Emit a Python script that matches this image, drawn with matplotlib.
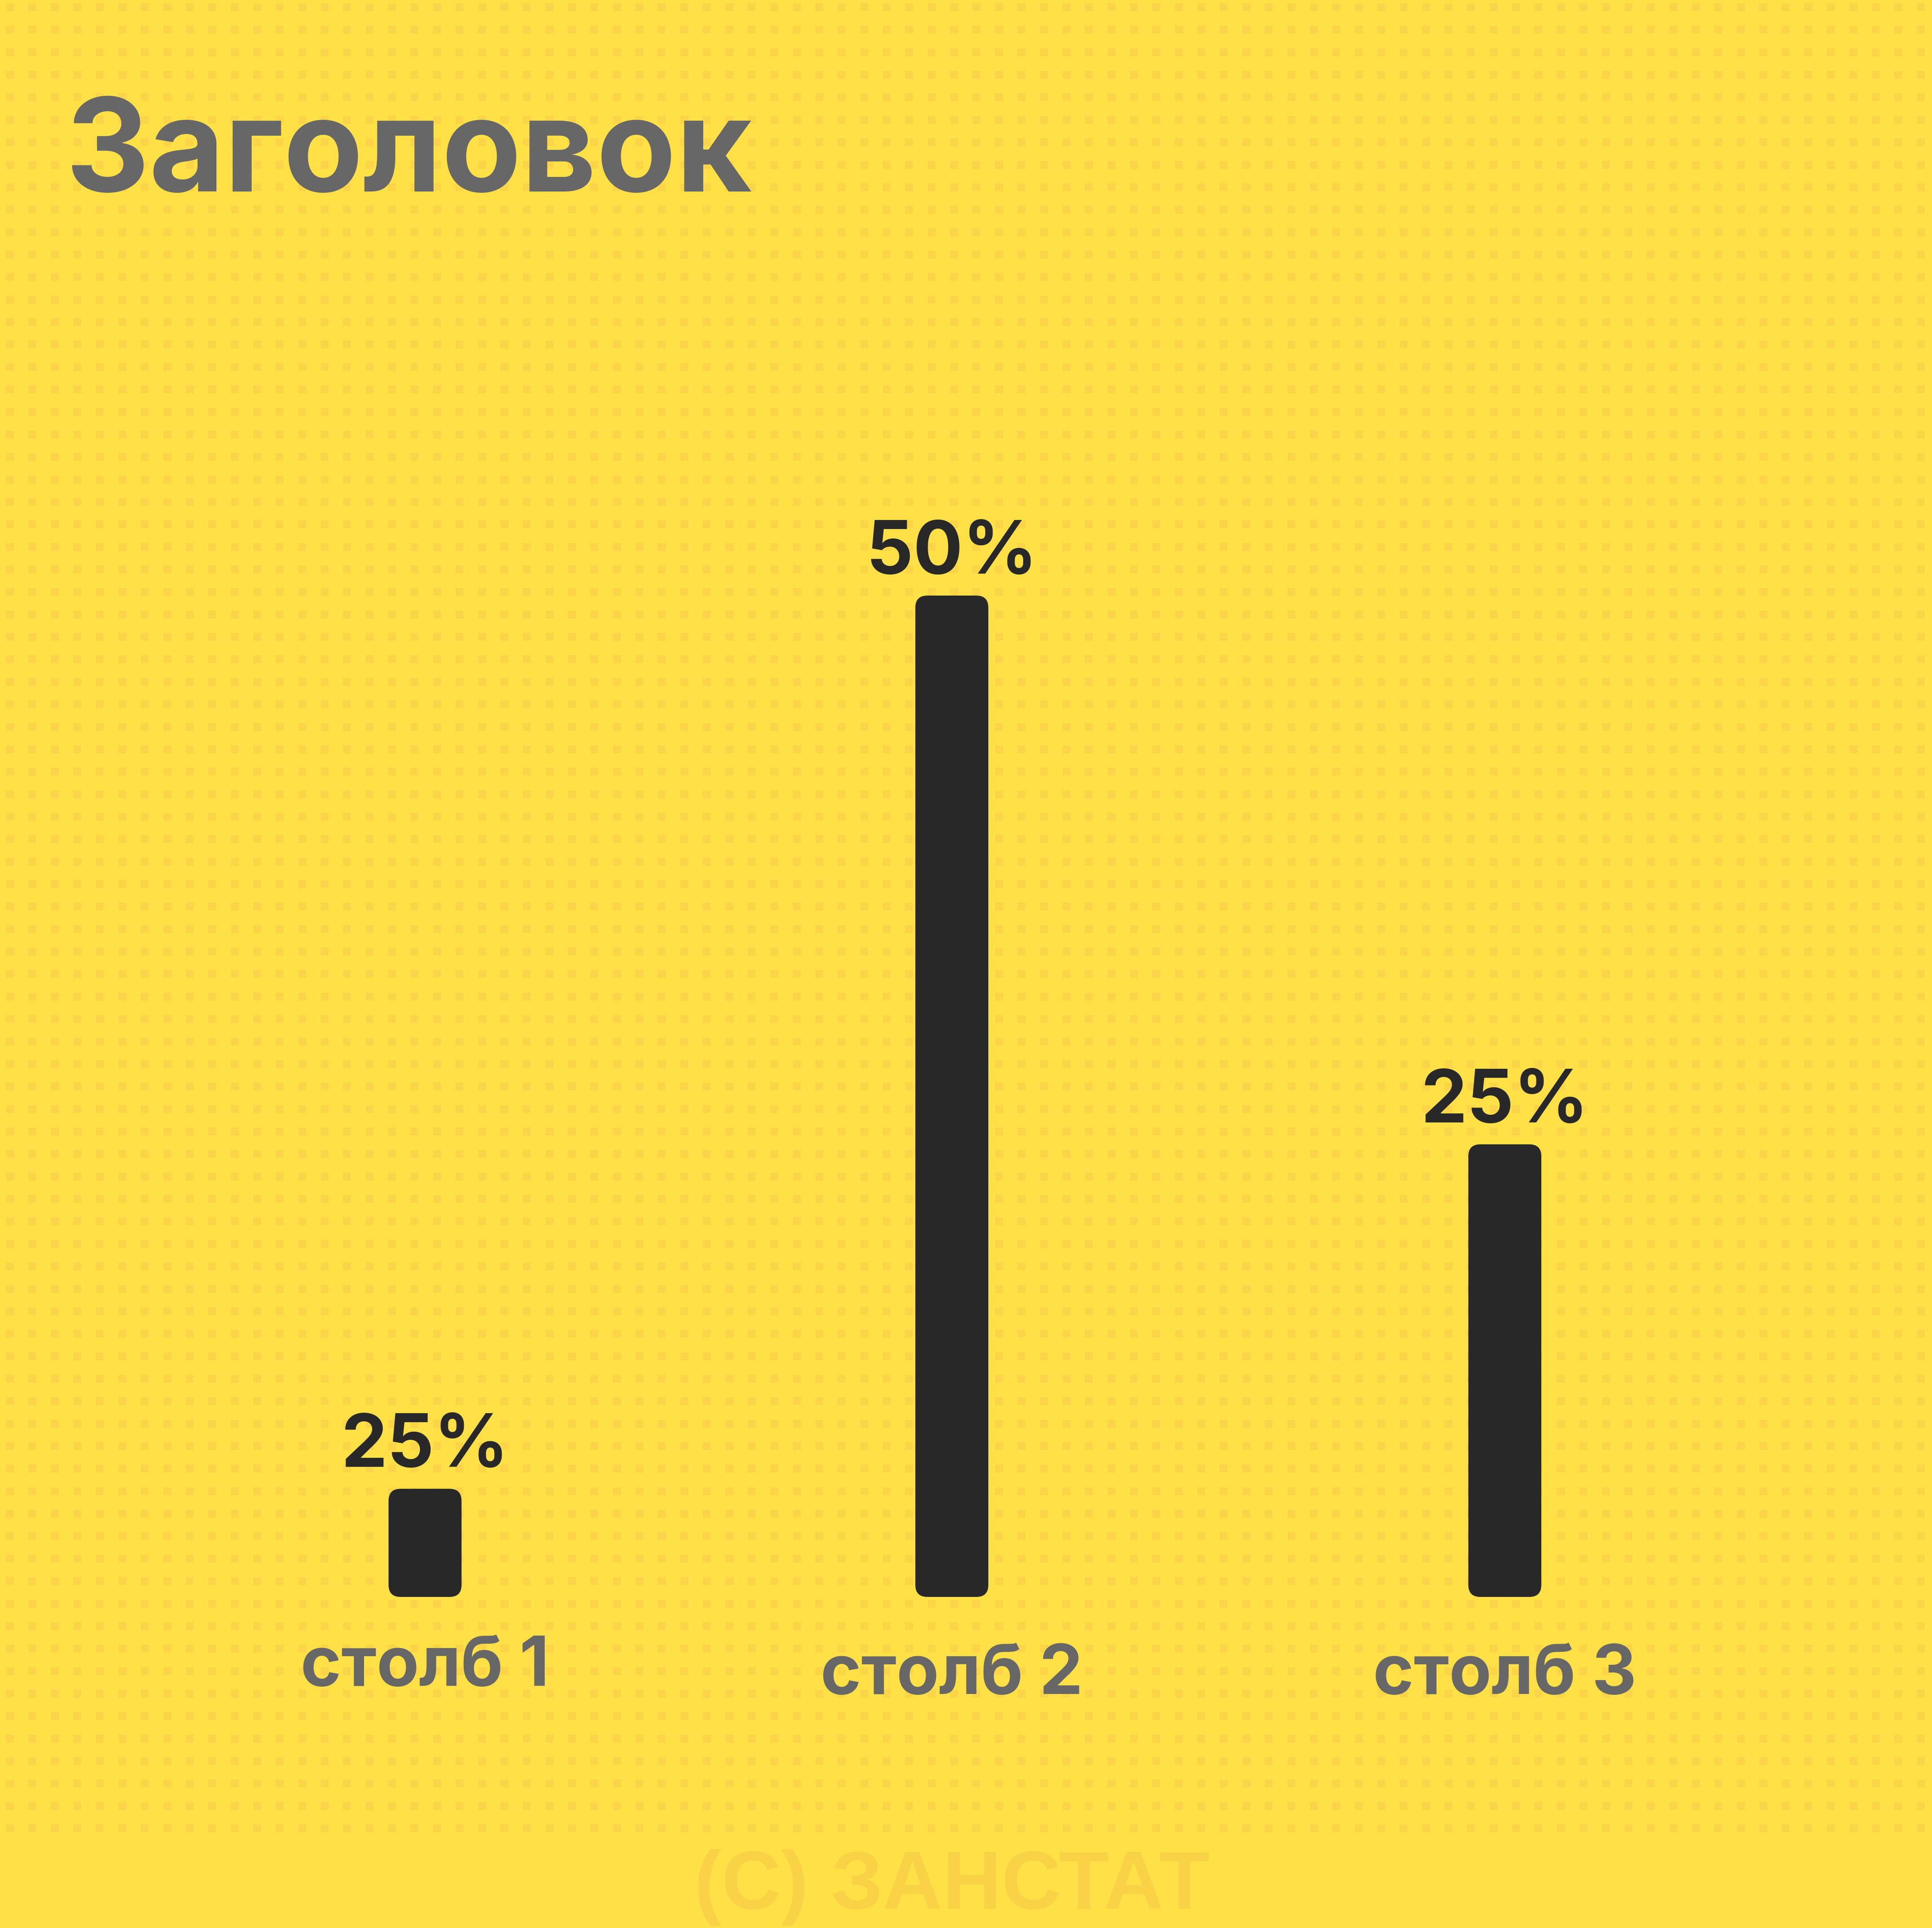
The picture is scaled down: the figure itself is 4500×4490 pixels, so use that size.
import numpy as np
import matplotlib
matplotlib.use("Agg")
import matplotlib.pyplot as plt
from matplotlib.patches import FancyBboxPatch

# data
title = "Заголовок"
categories = ["столб 1", "столб 2", "столб 3"]
values = [5.4, 50, 22.6]          # bar heights
value_labels = ["25%", "50%", "25%"]
watermark = "(С) ЗАНСТАТ"

# colours
bg = "#FFE047"
dot_col = "#FCD448"
bar_col = "#282828"
grey = "#676767"
wm_col = "#FAD246"

W, H, DPI = 4500, 4490, 100
fig = plt.figure(figsize=(W / DPI, H / DPI), dpi=DPI, facecolor=bg)

# dotted background (pixel coords, y from top)
bg_ax = fig.add_axes([0, 0, 1, 1])
bg_ax.set_xlim(0, W)
bg_ax.set_ylim(H, 0)
bg_ax.axis("off")
gx, gy = np.meshgrid(23 + 52.36 * np.arange(86), 17 + 52.36 * np.arange(82))
bg_ax.scatter(gx.ravel(), gy.ravel(), s=(18 * 0.72) ** 2, marker="s",
              color=dot_col, linewidths=0)

# bar axes: y-range 0..50 spans pixel rows 3719..1387
bottom_px, top_px = 3719, 1387
ax = fig.add_axes([0, (H - bottom_px) / H, 1, (bottom_px - top_px) / H])
ax.set_xlim(0, W)
ax.set_ylim(0, 50)
ax.axis("off")
ax.patch.set_alpha(0)

bar_x = [990, 2217, 3505]
bars = ax.bar(bar_x, values, width=170, color=bar_col)
aspect = 50 / (bottom_px - top_px)
for rect in bars:
    x0, y0 = rect.get_x(), rect.get_y()
    w, h = rect.get_width(), rect.get_height()
    rect.set_visible(False)
    ax.add_patch(FancyBboxPatch((x0, y0), w, h,
                                boxstyle="round,pad=0,rounding_size=28",
                                mutation_aspect=aspect, facecolor=bar_col,
                                edgecolor="none"))

for x, v, lab in zip(bar_x, values, value_labels):
    ax.annotate(lab, (x, v), xytext=(0, 37), textcoords="offset points",
                ha="center", va="baseline", fontsize=123, fontweight="bold",
                family="Inter", color=bar_col)

label_off = [149, 163, 163]
for x, cat, off in zip(bar_x, categories, label_off):
    ax.annotate(cat, (x, 0), xytext=(0, -off), textcoords="offset points",
                ha="center", va="baseline", fontsize=116, fontweight="bold",
                family="Inter", color=grey)

fig.text(152 / W, (H - 446) / H, title, ha="left", va="baseline",
         fontsize=218, fontweight="bold", family="Inter", color=grey)

fig.text(2217 / W, (H - 4445) / H, watermark, ha="center", va="baseline",
         fontsize=138, fontweight="bold", family="Liberation Sans", color=wm_col)

fig.savefig("out.png", dpi=DPI, facecolor=bg)
